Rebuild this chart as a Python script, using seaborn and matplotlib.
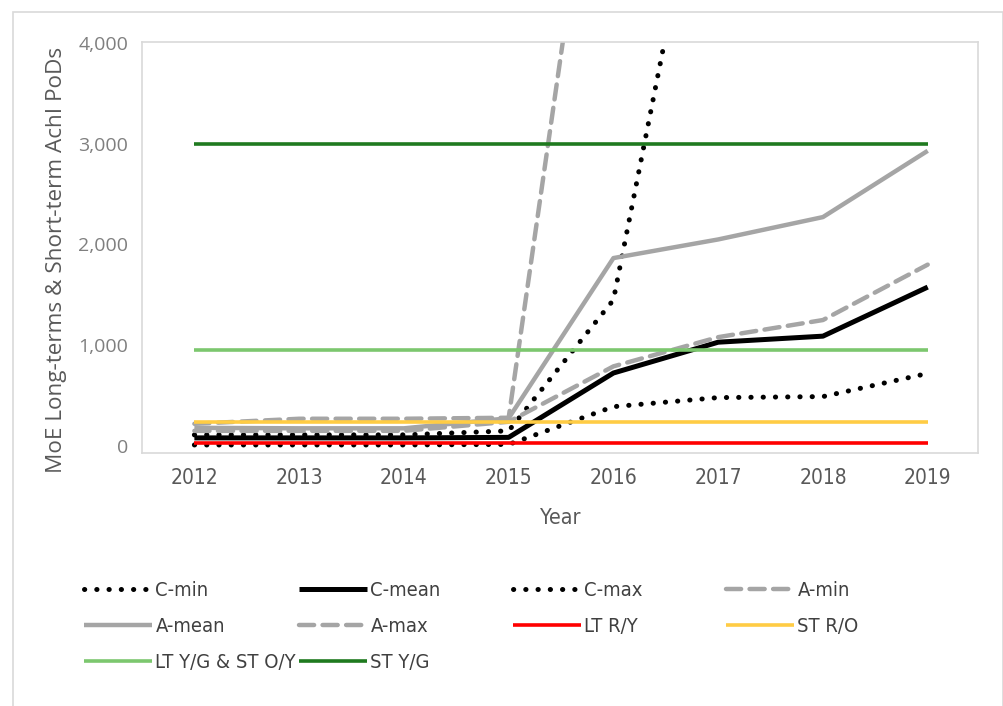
import numpy as np
import pandas as pd
import matplotlib
matplotlib.use('Agg')
import matplotlib.pyplot as plt
from matplotlib.patches import Rectangle
from matplotlib.ticker import FuncFormatter
from matplotlib import font_manager as fm
import seaborn as sns

# データ
years = [2012, 2013, 2014, 2015, 2016, 2017, 2018, 2019]

c_min = [10, 10, 10, 15, 390, 480, 490, 720]
c_mean = [80, 80, 80, 85, 724, 1030, 1090, 1577]
c_max = [110, 110, 110, 150, 1450, 6700, 9000, 12000]
a_min = [150, 150, 150, 240, 790, 1080, 1250, 1800]
a_mean = [180, 175, 175, 275, 1865, 2050, 2272, 2930]
a_max = [220, 270, 270, 280, 7500, 9000, 10000, 12000]
lt_ry = [30, 30, 30, 30, 30, 30, 30, 30]
st_ro = [235, 235, 235, 235, 235, 235, 235, 235]
lt_yg = [952, 952, 952, 952, 952, 952, 952, 952]
st_yg = [3000, 3000, 3000, 3000, 3000, 3000, 3000, 3000]

sns.set_theme(style='white')
plt.rcParams['font.family'] = ['Open Sans', 'DejaVu Sans']

# 細字フォント（Calibri風）を探す
def narrow_font():
    for fam, st in [('Liberation Sans Narrow', 'normal'), ('DejaVu Sans', 'condensed'),
                    ('Open Sans', 'condensed'), ('Roboto', 'condensed')]:
        try:
            path = fm.findfont(fm.FontProperties(family=fam, stretch=st),
                               fallback_to_default=False)
        except Exception:
            continue
        low = path.lower()
        if 'narrow' in low or 'condensed' in low:
            return fm.FontProperties(fname=path)
    return None

NP = narrow_font()

def narrow(size):
    if NP is not None:
        p = NP.copy()
        p.set_size(size)
        return p
    return fm.FontProperties(family=['Liberation Sans', 'DejaVu Sans'], size=size * 0.88)

fig = plt.figure(figsize=(10.04, 7.06), dpi=100)
ax = fig.add_axes([142 / 1004, 1 - 453 / 706, 836 / 1004, 411 / 706])

GRAY = '#A5A5A5'
dot = (0, (0.05, 2.4))
dash = (0, (3.4, 1.9))

# 系列の描画（Excelと同じ順番）
series = [
    ('C-min', c_min, 'black', dot, 3.6),
    ('C-mean', c_mean, 'black', '-', 3.6),
    ('C-max', c_max, 'black', dot, 3.6),
    ('A-min', a_min, GRAY, dash, 3.2),
    ('A-mean', a_mean, GRAY, '-', 3.2),
    ('A-max', a_max, GRAY, dash, 3.2),
    ('LT R/Y', lt_ry, '#FF0000', '-', 2.6),
    ('ST R/O', st_ro, '#FFCC44', '-', 2.6),
    ('LT Y/G & ST O/Y', lt_yg, '#7CC76E', '-', 2.6),
    ('ST Y/G', st_yg, '#1F7A1F', '-', 2.6),
]

handles = {}
for name, vals, col, ls, lw in series:
    df = pd.DataFrame({'year': years, 'v': vals})
    sns.lineplot(data=df, x='year', y='v', ax=ax, color=col, linestyle=ls,
                 linewidth=lw, dash_capstyle='round', solid_capstyle='butt',
                 label=name, legend=False)
    handles[name] = ax.lines[-1]

ax.set_xlim(2011.5, 2019.48)
ax.set_ylim(-70, 4010)
ax.set_xticks(years)
ax.set_yticks([0, 1000, 2000, 3000, 4000])
ax.yaxis.set_major_formatter(FuncFormatter(lambda v, p: f'{int(v):,}'))
ax.tick_params(axis='both', length=0)
ax.tick_params(axis='y', pad=10, labelsize=14, labelcolor='#7F7F7F')
ax.tick_params(axis='x', pad=11, labelcolor='#595959')
for t in ax.get_xticklabels():
    t.set_fontproperties(narrow(15))

for s in ax.spines.values():
    s.set_color('#D9D9D9')
    s.set_linewidth(1.2)

ax.set_ylabel('MoE Long-terms & Short-term AchI PoDs', fontsize=16.2, color='#595959')
ax.yaxis.set_label_coords(-0.09, 0.47)
ax.set_xlabel('Year', color='#595959', fontproperties=narrow(15.5))
ax.xaxis.set_label_coords(0.5, -0.135)

# 凡例（Excelのように等間隔の列）
columns = [
    ['C-min', 'A-mean', 'LT Y/G & ST O/Y'],
    ['C-mean', 'A-max', 'ST Y/G'],
    ['C-max', 'LT R/Y'],
    ['A-min', 'ST R/O'],
]
col_x = [84, 299, 513, 726]
for names, x0 in zip(columns, col_x):
    leg = fig.legend([handles[n] for n in names], names,
                     loc='upper left', bbox_to_anchor=(x0 / 1004, 1 - 581 / 706),
                     frameon=False, handlelength=3.4, handletextpad=0.15,
                     labelspacing=0.85, borderaxespad=0, borderpad=0,
                     prop=narrow(14.5))
    for t in leg.get_texts():
        t.set_color('#404040')

# 外枠
fig.patches.append(Rectangle((13 / 1004, -0.05), 990 / 1004, 1 - 12 / 706 + 0.05,
                             transform=fig.transFigure, fill=False,
                             edgecolor='#D9D9D9', linewidth=1.2))

fig.savefig('out.png', dpi=100)
